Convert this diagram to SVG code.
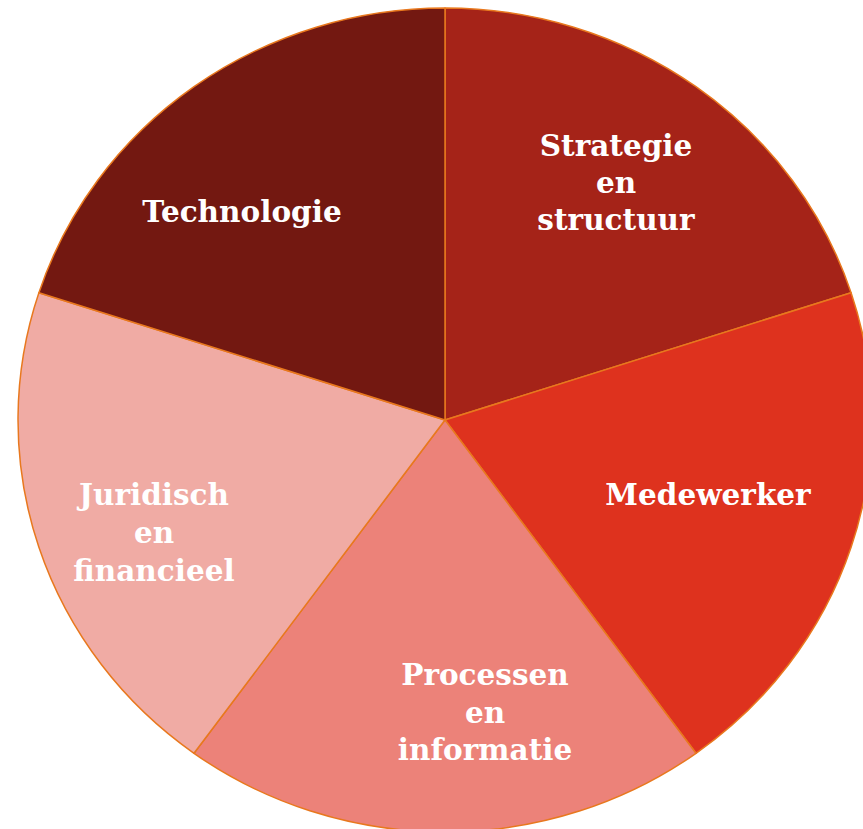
<svg xmlns="http://www.w3.org/2000/svg" width="863" height="829" viewBox="0 0 863 829">
<style>
.s{stroke:#E8781E;stroke-width:1.5;stroke-linejoin:round}
.t{font-family:"DejaVu Serif","Liberation Serif",serif;font-weight:bold;font-size:29.5px;fill:#FFFFFF;text-anchor:middle}
</style>
<rect width="863" height="829" fill="#FFFFFF"/>
<g id="slice-strategie">
<path class="s" fill="#A52318" d="M445,420 L445,8 A427,412 0 0 1 851.1,292.7 Z"/>
<text class="t" x="616" y="156">Strategie</text>
<text class="t" x="616" y="193">en</text>
<text class="t" x="616" y="230">structuur</text>
</g>
<g id="slice-medewerker">
<path class="s" fill="#DE321E" d="M445,420 L851.1,292.7 A427,412 0 0 1 696,753.3 Z"/>
<text class="t" x="708" y="505">Medewerker</text>
</g>
<g id="slice-processen">
<path class="s" fill="#EC8279" d="M445,420 L696,753.3 A427,412 0 0 1 194,753.3 Z"/>
<text class="t" x="485" y="685">Processen</text>
<text class="t" x="485" y="723">en</text>
<text class="t" x="485" y="760">informatie</text>
</g>
<g id="slice-juridisch">
<path class="s" fill="#F0ABA4" d="M445,420 L194,753.3 A427,412 0 0 1 38.9,292.7 Z"/>
<text class="t" x="154" y="505">Juridisch</text>
<text class="t" x="154" y="543">en</text>
<text class="t" x="154" y="581">financieel</text>
</g>
<g id="slice-technologie">
<path class="s" fill="#731811" d="M445,420 L38.9,292.7 A427,412 0 0 1 445,8 Z"/>
<text class="t" x="242" y="222">Technologie</text>
</g>
<g id="connectors"></g>
</svg>
